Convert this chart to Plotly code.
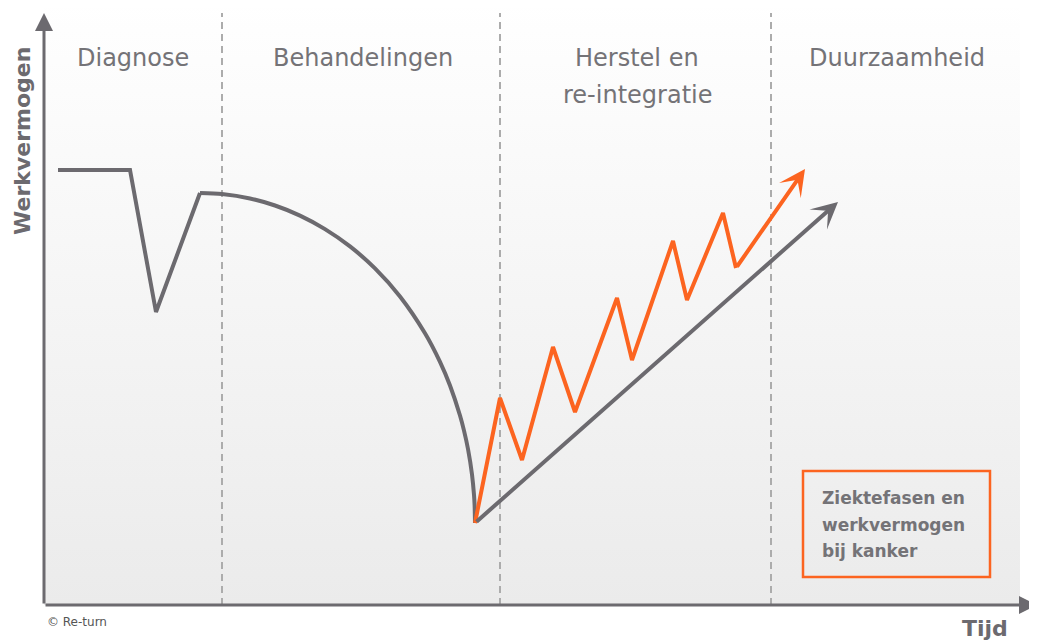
import base64
import plotly.graph_objects as go

# ---- data (x = time, y = work capacity) ----
drop_time = [14, 86, 112, 156]
drop_capacity = [435, 435, 293, 412]
curve_time = [156, 178, 206, 231, 256, 281, 306, 331, 356, 381, 396, 406, 416, 420, 424, 428, 430, 430.6, 431]
curve_capacity = [412, 410.9, 406.5, 399.5, 389.4, 375.9, 358.6, 336.6, 308.5, 271.7, 243.1, 219.5, 189.5, 174.4, 156, 130.6, 110.1, 99.8, 82]
gray_trend_start = (431, 82)
gray_trend_end = (794, 403)

orange_time = [431, 456, 478, 509, 531, 573, 588, 629, 643, 679, 692]
orange_capacity = [82, 207, 145, 258, 193, 307, 245, 364, 305, 392, 337]
orange_tip = (761, 436)

phase_bounds = [178, 456, 727]
phase_top = 592
phase_labels = ["Diagnose", "Behandelingen", ["Herstel en", "re-integratie"], "Duurzaamheid"]
phase_label_x = [89, 319, 593, 853]

x_axis_end = 993
y_axis_end = 592

box_lines = ["Ziektefasen en", "werkvermogen", "bij kanker"]

GRAY = "#6c6a6f"
ORANGE = "#fc6420"
TEXT = "#747377"
FONT = "'DejaVu Sans', Inter, sans-serif"

fig = go.Figure()

# phase boundaries
for b in phase_bounds:
    fig.add_trace(go.Scatter(x=[b, b], y=[0, phase_top], mode="lines",
                             line=dict(color="#acacac", width=2, dash="7px,5px"),
                             hoverinfo="skip", showlegend=False))

fig.add_trace(go.Scatter(x=drop_time, y=drop_capacity, mode="lines",
                         line=dict(color=GRAY, width=4), hoverinfo="skip", showlegend=False))
fig.add_trace(go.Scatter(x=curve_time, y=curve_capacity, mode="lines",
                         line=dict(color=GRAY, width=4, shape="spline", smoothing=0.8),
                         hoverinfo="skip", showlegend=False))
fig.add_trace(go.Scatter(x=orange_time, y=orange_capacity, mode="lines",
                         line=dict(color=ORANGE, width=4), hoverinfo="skip", showlegend=False))

ann = []
# arrows
ann.append(dict(x=gray_trend_end[0], y=gray_trend_end[1], ax=gray_trend_start[0], ay=gray_trend_start[1],
                xref="x", yref="y", axref="x", ayref="y", text="", showarrow=True,
                arrowhead=3, arrowsize=1.1, arrowwidth=4, arrowcolor=GRAY))
ann.append(dict(x=orange_tip[0], y=orange_tip[1], ax=orange_time[-1], ay=orange_capacity[-1],
                xref="x", yref="y", axref="x", ayref="y", text="", showarrow=True,
                arrowhead=3, arrowsize=1.1, arrowwidth=4, arrowcolor=ORANGE))
# axes
ann.append(dict(x=0, y=y_axis_end, ax=0, ay=0, xref="x", yref="y", axref="x", ayref="y",
                text="", showarrow=True, arrowhead=2, arrowsize=1.2, arrowwidth=3, arrowcolor=GRAY))
ann.append(dict(x=x_axis_end, y=0, ax=0, ay=0, xref="x", yref="y", axref="x", ayref="y",
                text="", showarrow=True, arrowhead=2, arrowsize=1.2, arrowwidth=3, arrowcolor=GRAY))

# phase labels
for lab, x in zip(phase_labels, phase_label_x):
    lines = lab if isinstance(lab, list) else [lab]
    for i, t in enumerate(lines):
        ann.append(dict(x=x, y=547 - 37 * i, xref="x", yref="y", text=t, showarrow=False,
                        font=dict(family=FONT, size=24, color=TEXT), xanchor="center", yanchor="middle"))

ann.append(dict(x=-22, y=464, xref="x", yref="y", text="<b>Werkvermogen</b>", textangle=-90,
                showarrow=False, font=dict(family=FONT, size=22, color=GRAY)))
ann.append(dict(x=941, y=-23, xref="x", yref="y", text="<b>Tijd</b>",
                showarrow=False, font=dict(family=FONT, size=22, color=GRAY)))
ann.append(dict(x=1, y=-17, xref="x", yref="y", text="© Re-turn", xanchor="left",
                showarrow=False, font=dict(family=FONT, size=12, color="#555555")))

for i, t in enumerate(box_lines):
    ann.append(dict(x=776, y=107 - 26.5 * i, xref="x", yref="y", text="<b>" + t + "</b>",
                    xanchor="left", yanchor="middle", showarrow=False,
                    font=dict(family=FONT, size=17, color=TEXT)))

shapes = [dict(type="rect", xref="x", yref="y", x0=759, x1=946, y0=28, y1=134,
               line=dict(color=ORANGE, width=2.5), fillcolor="rgba(0,0,0,0)")]

svg = ('<svg xmlns="http://www.w3.org/2000/svg" width="100" height="100" preserveAspectRatio="none">'
       '<defs><linearGradient id="g" x1="0" y1="0" x2="0" y2="1">'
       '<stop offset="0" stop-color="#ffffff"/><stop offset="1" stop-color="#ebebeb"/>'
       '</linearGradient></defs><rect width="100" height="100" fill="url(#g)"/></svg>')
src = "data:image/svg+xml;base64," + base64.b64encode(svg.encode()).decode()

# the page body has an 8px margin, so the figure is 8px smaller and ranges compensate
fig.update_layout(
    width=1029, height=632, margin=dict(l=0, r=0, t=0, b=0),
    paper_bgcolor="white", plot_bgcolor="rgba(0,0,0,0)",
    xaxis=dict(range=[-36, 993], visible=False, fixedrange=True),
    yaxis=dict(range=[-35, 597], visible=False, fixedrange=True),
    annotations=ann, shapes=shapes,
    images=[dict(source=src, xref="x", yref="y", x=0, y=605, sizex=976, sizey=605,
                 sizing="stretch", layer="below", xanchor="left", yanchor="top")],
    showlegend=False,
)

fig.write_html("out.html")
